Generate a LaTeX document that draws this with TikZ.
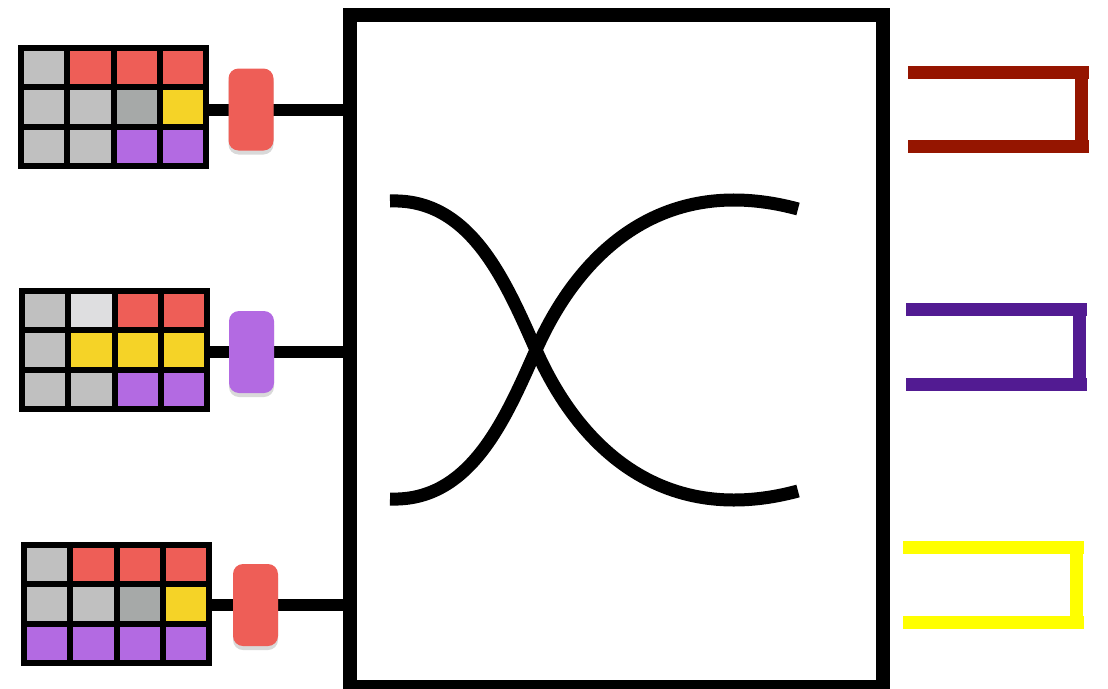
\documentclass[tikz,border=0pt]{standalone}
\usepackage{xcolor}
\usepackage{tikz}
\usetikzlibrary{calc,shadows}

\definecolor{tilered}{HTML}{EE5E57}
\definecolor{tilegray}{HTML}{C0C0C0}
\definecolor{tiledark}{HTML}{A6A9A8}
\definecolor{tilelight}{HTML}{DEDEE0}
\definecolor{tileyellow}{HTML}{F5D327}
\definecolor{tilepurple}{HTML}{B36AE2}
\definecolor{outred}{HTML}{951500}
\definecolor{outpurple}{HTML}{521B92}
\definecolor{outyellow}{HTML}{FFFF00}

\tikzset{
  gridframe/.style={rectangle, inner sep=0pt, outer sep=0pt, minimum width=185pt, minimum height=118pt, anchor=north west},
  gridline/.style={line width=6pt},
  wire/.style={line width=12pt},
  pill/.style={rectangle, rounded corners=10pt, minimum width=45pt, minimum height=82pt,
    drop shadow={shadow xshift=0pt, shadow yshift=-4pt, opacity=0.3}},
  switchbox/.style={draw, line width=14pt, minimum width=532.5pt, minimum height=672.5pt, inner sep=0pt, outer sep=0pt},
  cross/.style={line width=13pt},
  outbar/.style={line width=13pt},
}

% #1 name, #2 top left corner, #3 cell colours row by row
\newcommand{\tilegrid}[3]{%
  \node[gridframe] (#1) at (#2) {};
  \foreach \c [count=\i from 0] in {#3} {
    \pgfmathsetmacro\cx{mod(\i,4)*46.25}
    \pgfmathsetmacro\cy{int(\i/4)*39.33}
    \fill[\c] ($(#1.north west)+(\cx,\cy)$) rectangle ++(46.25,39.33);
  }
  \foreach \k in {1,2,3}
    \draw[gridline] ($(#1.north west)+(\k*46.25,0)$) -- ($(#1.south west)+(\k*46.25,0)$);
  \foreach \k in {1,2}
    \draw[gridline] ($(#1.north west)+(0,\k*39.33)$) -- ($(#1.north east)+(0,\k*39.33)$);
  \draw[gridline] (#1.north west) rectangle (#1.south east);
}

\begin{document}
\begin{tikzpicture}[x=1pt,y=-1pt]
  \useasboundingbox (0,0) rectangle (1108,688);

  \node[switchbox] (sw) at (616.25,350.75) {};
  \draw[cross] (390,201) .. controls (470,198) and (505,280) .. (536,350)
    .. controls (580,450) and (665,527) .. (798,491);
  \draw[cross] (390,499) .. controls (470,502) and (505,420) .. (536,350)
    .. controls (580,250) and (665,173) .. (798,209);

  \tilegrid{g1}{21,48}{tilegray,tilered,tilered,tilered,tilegray,tilegray,tiledark,tileyellow,tilegray,tilegray,tilepurple,tilepurple}
  \tilegrid{g2}{22,291}{tilegray,tilelight,tilered,tilered,tilegray,tileyellow,tileyellow,tileyellow,tilegray,tilegray,tilepurple,tilepurple}
  \tilegrid{g3}{24,545}{tilegray,tilered,tilered,tilered,tilegray,tilegray,tiledark,tileyellow,tilepurple,tilepurple,tilepurple,tilepurple}

  \coordinate (c1) at (251,109.5);
  \coordinate (c2) at (251.5,352);
  \coordinate (c3) at (255.5,605);
  \draw[wire] (g1.east |- c1) -- (sw.west |- c1);
  \draw[wire] (g2.east |- c2) -- (sw.west |- c2);
  \draw[wire] (g3.east |- c3) -- (sw.west |- c3);
  \node[pill, fill=tilered] (p1) at (c1) {};
  \node[pill, fill=tilepurple] (p2) at (c2) {};
  \node[pill, fill=tilered] (p3) at (c3) {};

  % outputs
  \foreach \clr/\xl/\yt/\yb in {outred/908/72/146.5, outpurple/906/309.5/384, outyellow/903/547/622} {
    \draw[outbar,\clr] (\xl,\yt) -- (\xl+181,\yt);
    \draw[outbar,\clr] (\xl,\yb) -- (\xl+181,\yb);
    \draw[outbar,\clr] (\xl+173,\yt) -- (\xl+173,\yb+6.5);
  }
\end{tikzpicture}
\end{document}
